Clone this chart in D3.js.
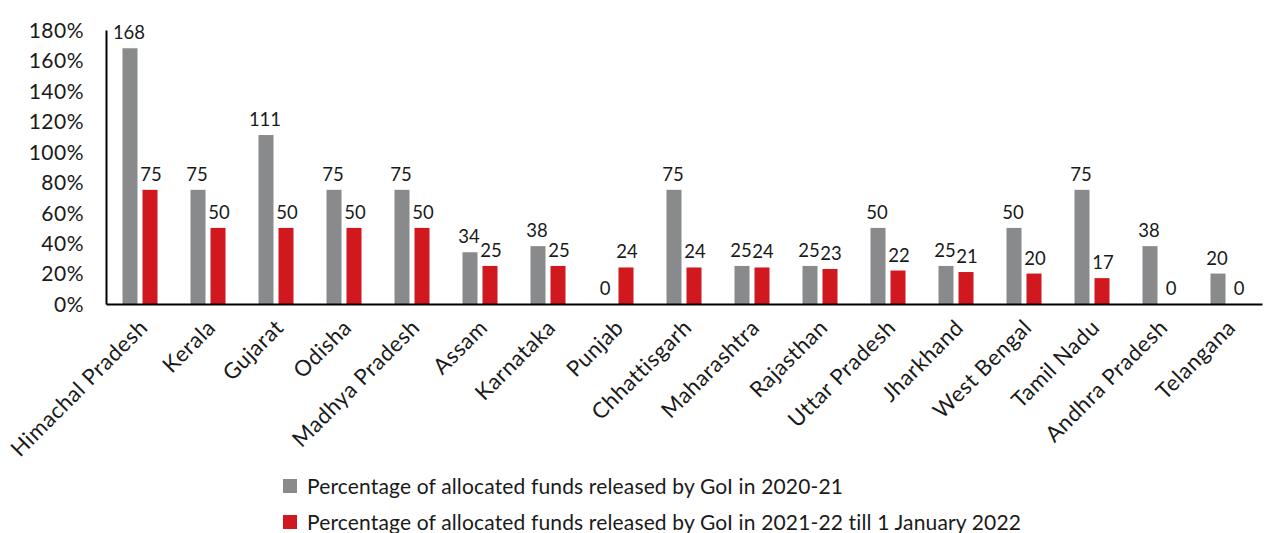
<!DOCTYPE html>
<html>
<head>
<meta charset="utf-8">
<script src="https://cdn.jsdelivr.net/npm/d3@7"></script>
<style>
  body { margin: 0; background: #fff; }
  svg text { font-family: Lato, "Open Sans", sans-serif; fill: #1a1a1a; }
</style>
</head>
<body>
<svg class="funds" width="1265" height="533"></svg>
<script>
// states in the order shown
var states = ['Himachal Pradesh', 'Kerala', 'Gujarat', 'Odisha', 'Madhya Pradesh', 'Assam',
  'Karnataka', 'Punjab', 'Chhattisgarh', 'Maharashtra', 'Rajasthan', 'Uttar Pradesh',
  'Jharkhand', 'West Bengal', 'Tamil Nadu', 'Andhra Pradesh', 'Telangana'];
var released2021 = [168, 75, 111, 75, 75, 34, 38, 0, 75, 25, 25, 50, 25, 50, 75, 38, 20];
var released2022 = [75, 50, 50, 50, 50, 25, 25, 24, 24, 24, 23, 22, 21, 20, 17, 0, 0];
var yTicks = [0, 20, 40, 60, 80, 100, 120, 140, 160, 180];
var seriesNames = ['Percentage of allocated funds released by GoI in 2020-21',
  'Percentage of allocated funds released by GoI in 2021-22 till 1 January 2022'];
var colors = ['#898a8c', '#d2181f'];

var svg = d3.select('svg.funds');
var padding = {t: 30, l: 106, r: 3};
var chartWidth = 1265 - padding.l - padding.r;
var chartHeight = 274;

var chartG = svg.append('g')
    .attr('transform', 'translate(' + [padding.l, padding.t] + ')');

var xScale = d3.scaleBand().domain(states).range([0, chartWidth]);
var yScale = d3.scaleLinear().domain([0, 180]).range([chartHeight, 0]);
var barW = 15, gap = 5;

// y axis
var yAxisG = chartG.append('g')
    .call(d3.axisLeft(yScale).tickValues(yTicks).tickSize(0).tickPadding(22)
      .tickFormat(function(d) { return d + '%'; }));
yAxisG.select('.domain').attr('stroke', '#000').attr('stroke-width', 2);
yAxisG.selectAll('text').style('font-size', '21px').style('letter-spacing', '0.5px')
    .attr('dy', '0.35em');

// bars
var series = [released2021, released2022];
series.forEach(function(vals, si) {
  var g = chartG.append('g').attr('class', 'series-' + si);
  g.selectAll('rect')
    .data(vals)
    .enter().append('rect')
    .attr('x', function(d, i) {
      var c = xScale(states[i]) + xScale.bandwidth() / 2;
      return si === 0 ? c - gap / 2 - barW : c + gap / 2;
    })
    .attr('width', barW)
    .attr('y', function(d) { return yScale(d); })
    .attr('height', function(d) { return chartHeight - yScale(d); })
    .attr('fill', colors[si]);

  // value labels, nudged apart a little so neighbours don't collide
  g.selectAll('text')
    .data(vals)
    .enter().append('text')
    .attr('x', function(d, i) {
      var c = xScale(states[i]) + xScale.bandwidth() / 2;
      return si === 0 ? c - gap / 2 - barW / 2 - 1 : c + gap / 2 + barW / 2 + 1;
    })
    .attr('y', function(d) { return yScale(d) - 9; })
    .attr('text-anchor', 'middle')
    .style('font-size', '18.5px')
    .text(function(d) { return d; });
});

// x axis
var xAxisG = chartG.append('g')
    .attr('transform', 'translate(0,' + chartHeight + ')')
    .call(d3.axisBottom(xScale).tickSize(0).tickPadding(0));
xAxisG.select('.domain').attr('stroke', '#000').attr('stroke-width', 2);
xAxisG.selectAll('text')
    .style('font-size', '22px')
    .style('letter-spacing', '0.6px')
    .attr('text-anchor', 'end')
    .attr('dy', 0)
    .attr('transform', 'translate(9,25) rotate(-45)');

// legend
var legend = svg.append('g').attr('transform', 'translate(283,479)');
seriesNames.forEach(function(name, i) {
  var row = legend.append('g').attr('transform', 'translate(0,' + (i * 36) + ')');
  row.append('rect').attr('width', 14).attr('height', 14).attr('fill', colors[i]);
  row.append('text').attr('x', 24).attr('y', 15)
    .style('font-size', '21px')
    .style('letter-spacing', '0.15px')
    .text(name);
});
</script>
</body>
</html>
